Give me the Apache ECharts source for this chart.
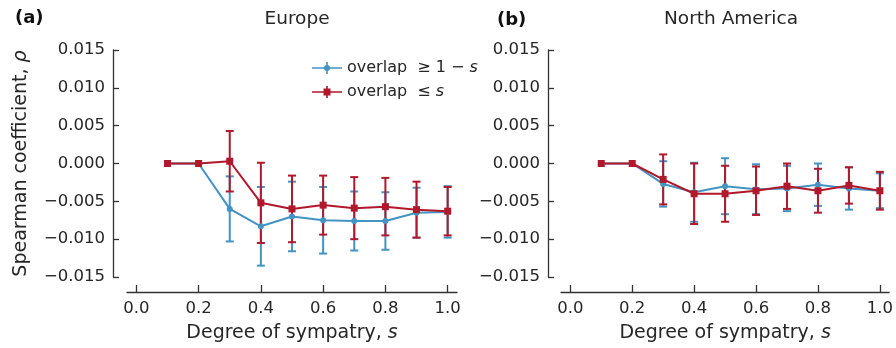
<!DOCTYPE html>
<html>
<head>
<meta charset="utf-8">
<script src="https://cdn.jsdelivr.net/npm/echarts@6/dist/echarts.min.js"></script>
<style>
  html, body { margin: 0; padding: 0; background: #fff; }
  #chart { width: 896px; height: 348px; }
</style>
</head>
<body>
<div id="chart"></div>
<script>
// degree of sympatry s
const sympatry = [0.1, 0.2, 0.3, 0.4, 0.5, 0.6, 0.7, 0.8, 0.9, 1.0];
const xTicks = [0.0, 0.2, 0.4, 0.6, 0.8, 1.0];

// Europe: overlap >= 1 - s (blue) and overlap <= s (red), mean and +/- error
const euGeMean = [0, 0, -0.0060, -0.0083, -0.0070, -0.0075, -0.0076, -0.0076, -0.0065, -0.0064];
const euGeErr  = [0, 0, 0.0043, 0.0052, 0.0046, 0.0044, 0.0039, 0.0038, 0.0033, 0.0034];
const euLeMean = [0, 0, 0.0003, -0.0052, -0.0060, -0.0055, -0.0059, -0.0057, -0.0061, -0.0063];
const euLeErr  = [0, 0, 0.0040, 0.0053, 0.0044, 0.0039, 0.0041, 0.0038, 0.0037, 0.0032];

// North America
const naGeMean = [0, 0, -0.0027, -0.0038, -0.0030, -0.0034, -0.0033, -0.0028, -0.0033, -0.0036];
const naGeErr  = [0, 0, 0.0030, 0.0039, 0.0037, 0.0033, 0.0030, 0.0028, 0.0028, 0.0023];
const naLeMean = [0, 0, -0.0021, -0.0040, -0.0040, -0.0036, -0.0030, -0.0036, -0.0029, -0.0036];
const naLeErr  = [0, 0, 0.0033, 0.0040, 0.0037, 0.0032, 0.0030, 0.0029, 0.0024, 0.0025];

const BLUE = '#4393c3';
const RED = '#b2182b';
const INK = '#262626';
const FONT = 'DejaVu Sans';

const pts = (mean) => sympatry.map((s, i) => [s, mean[i]]);
const bars = (mean, err) => sympatry.map((s, i) => [s, mean[i], mean[i] - err[i], mean[i] + err[i]]);

function errRender(color) {
  return function (params, api) {
    const x = api.value(0);
    const lo = api.coord([x, api.value(2)]);
    const hi = api.coord([x, api.value(3)]);
    if (Math.abs(lo[1] - hi[1]) < 0.5) return null;
    const w = 4;
    const st = { stroke: color, lineWidth: 2 };
    return {
      type: 'group',
      children: [
        { type: 'line', shape: { x1: hi[0], y1: hi[1], x2: lo[0], y2: lo[1] }, style: st },
        { type: 'line', shape: { x1: hi[0] - w, y1: hi[1], x2: hi[0] + w, y2: hi[1] }, style: st },
        { type: 'line', shape: { x1: lo[0] - w, y1: lo[1], x2: lo[0] + w, y2: lo[1] }, style: st }
      ]
    };
  };
}

function panelSeries(idx, geMean, geErr, leMean, leErr) {
  return [
    { type: 'custom', name: 'geErr', xAxisIndex: idx, yAxisIndex: idx, renderItem: errRender(BLUE),
      data: bars(geMean, geErr), encode: { x: 0, y: [2, 3] } },
    { type: 'line', name: 'ge', xAxisIndex: idx, yAxisIndex: idx, data: pts(geMean),
      symbol: 'circle', symbolSize: 6, lineStyle: { color: BLUE, width: 2 }, itemStyle: { color: BLUE } },
    { type: 'custom', name: 'leErr', xAxisIndex: idx, yAxisIndex: idx, renderItem: errRender(RED),
      data: bars(leMean, leErr), encode: { x: 0, y: [2, 3] } },
    { type: 'line', name: 'le', xAxisIndex: idx, yAxisIndex: idx, data: pts(leMean),
      symbol: 'rect', symbolSize: 7, lineStyle: { color: RED, width: 2 }, itemStyle: { color: RED } }
  ];
}

function xAxis(idx) {
  return {
    type: 'value', gridIndex: idx, min: -0.03, max: 1.03, offset: 15,
    name: 'Degree of sympatry, {i|s}', nameLocation: 'middle', nameGap: 32,
    nameTextStyle: { fontFamily: FONT, fontSize: 19, color: INK, rich: { i: { fontStyle: 'italic', fontFamily: FONT, fontSize: 19, color: INK } } },
    splitLine: { show: false },
    axisLine: { show: true, onZero: false, lineStyle: { color: '#333', width: 1.3 } },
    axisTick: { show: true, inside: true, length: 7, customValues: xTicks, lineStyle: { color: '#333', width: 1.3 } },
    axisLabel: { customValues: xTicks, margin: 8, fontFamily: FONT, fontSize: 16.5, color: INK,
      formatter: (v) => v.toFixed(1) }
  };
}

function yAxis(idx, offset, withName) {
  return {
    type: 'value', gridIndex: idx, min: -0.015, max: 0.015, interval: 0.005, offset: offset,
    name: withName ? 'Spearman coefficient, {i|ρ}' : '', nameLocation: 'middle', nameGap: 82, nameRotate: 90,
    nameTextStyle: { fontFamily: FONT, fontSize: 19, color: INK, rich: { i: { fontStyle: 'italic', fontFamily: FONT, fontSize: 19, color: INK } } },
    splitLine: { show: false },
    axisLine: { show: true, onZero: false, lineStyle: { color: '#333', width: 1.3 } },
    axisTick: { show: true, inside: true, length: 6, lineStyle: { color: '#333', width: 1.3 } },
    axisLabel: { margin: 8, fontFamily: FONT, fontSize: 16.5, color: INK,
      formatter: (v) => (v < -1e-9 ? '\u2212' : '') + Math.abs(v).toFixed(3) }
  };
}

const geIcon = 'path://M0,5.2L30,5.2L30,6.8L0,6.8Z M14.2,0L15.8,0L15.8,12L14.2,12Z M12,6A3,3 0 1 1 18,6A3,3 0 1 1 12,6Z';
const leIcon = 'path://M0,5.2L30,5.2L30,6.8L0,6.8Z M14.2,0L15.8,0L15.8,12L14.2,12Z M11.5,2.5L18.5,2.5L18.5,9.5L11.5,9.5Z';

const chart = echarts.init(document.getElementById('chart'), null, { renderer: 'canvas' });
chart.setOption({
  animation: false,
  backgroundColor: '#fff',
  title: [
    { text: 'Europe', left: 292, top: 5, textAlign: 'center', textStyle: { fontFamily: FONT, fontSize: 18.5, fontWeight: 'normal', color: INK } },
    { text: 'North America', left: 726, top: 5, textAlign: 'center', textStyle: { fontFamily: FONT, fontSize: 18.5, fontWeight: 'normal', color: INK } },
    { text: '(a)', left: 10, top: 4, textStyle: { fontFamily: FONT, fontSize: 18, fontWeight: 'bold', color: '#111' } },
    { text: '(b)', left: 492, top: 6, textStyle: { fontFamily: FONT, fontSize: 18, fontWeight: 'bold', color: '#111' } }
  ],
  legend: {
    orient: 'vertical', left: 307, top: 55, itemWidth: 30, itemHeight: 12, itemGap: 8,
    data: [{ name: 'ge', icon: geIcon }, { name: 'le', icon: leIcon }],
    formatter: (n) => n === 'ge' ? '{n|overlap  \u2265 1 \u2212 }{i|s}' : '{n|overlap  \u2264 }{i|s}',
    textStyle: { fontFamily: FONT, fontSize: 16, color: INK,
      rich: { n: { fontFamily: FONT, fontSize: 16, color: INK }, i: { fontFamily: FONT, fontSize: 16, fontStyle: 'italic', color: INK } } }
  },
  grid: [
    { left: 127, top: 50, width: 330, height: 227 },
    { left: 561, top: 50, width: 330, height: 227 }
  ],
  xAxis: [xAxis(0), xAxis(1)],
  yAxis: [yAxis(0, 14, true), yAxis(1, 13, false)],
  series: [
    ...panelSeries(0, euGeMean, euGeErr, euLeMean, euLeErr),
    ...panelSeries(1, naGeMean, naGeErr, naLeMean, naLeErr)
  ]
});
</script>
</body>
</html>
